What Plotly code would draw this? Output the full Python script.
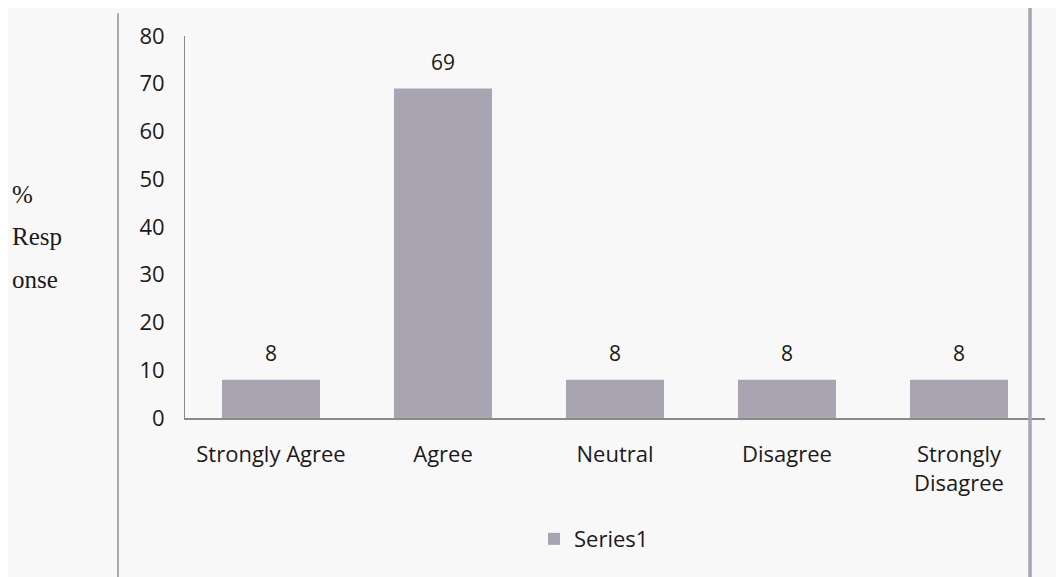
import plotly.graph_objects as go

categories = ["Strongly Agree", "Agree", "Neutral", "Disagree", "Strongly<br>Disagree"]
values = [8, 69, 8, 8, 8]
series_name = "Series1"
y_ticks = [0, 10, 20, 30, 40, 50, 60, 70, 80]
y_title_lines = ["%", "Resp", "onse"]

W, H = 1064, 577
OFF = 8  # page body margin offset
# target pixel positions in the page
PL, PR, PT, PB = 185, 1045, 33, 418
L = PL - OFF
T = PT - OFF
R = W - (PR - OFF)
B = H - (PB - OFF)
pw, ph = (PR - PL), (PB - PT)

def px_x(p):
    return (p - PL) / pw

def px_y(p):
    return (PB - p) / ph

FONT = "Open Sans"
TXT = "#1a1a1a"

fig = go.Figure()
fig.add_trace(go.Bar(
    x=categories, y=values, name=series_name,
    marker=dict(color="#a9a4b2", line=dict(width=0)),
    width=0.57,
))

annotations = []
for c, v in zip(categories, values):
    annotations.append(dict(x=c, y=v, xref="x", yref="y", text=str(v), showarrow=False,
                            yanchor="bottom", yshift=11,
                            font=dict(family=FONT, size=21, color=TXT)))

for line, py, pxl in zip(y_title_lines, [193, 235, 278], [10, 10, 10]):
    annotations.append(dict(text=line, xref="paper", yref="paper", x=px_x(pxl), y=px_y(py),
                            xanchor="left", yanchor="middle", showarrow=False,
                            font=dict(family="Liberation Serif", size=25, color=TXT)))

fig.update_layout(
    width=W, height=H,
    margin=dict(l=L, r=R, t=T, b=B),
    paper_bgcolor="#f9f8f9", plot_bgcolor="rgba(0,0,0,0)",
    showlegend=True,
    legend=dict(orientation="h", x=px_x(594), y=px_y(540), xanchor="center", yanchor="middle",
                font=dict(family=FONT, size=22, color=TXT), bgcolor="rgba(0,0,0,0)"),
    xaxis=dict(showgrid=False, showline=True, linecolor="#8a8a8a", linewidth=1.5,
               tickfont=dict(family=FONT, size=22, color=TXT),
               ticks="", ticklabelstandoff=16),
    yaxis=dict(range=[0, 80], tickvals=y_ticks, showgrid=False, showline=True,
               linecolor="#8a8a8a", linewidth=1, zeroline=False,
               tickfont=dict(family=FONT, size=22, color=TXT),
               ticks="", ticklabelstandoff=15),
    shapes=[
        dict(type="line", xref="paper", yref="paper", x0=px_x(118), x1=px_x(118),
             y0=px_y(10), y1=px_y(590), line=dict(color="#7a7a7a", width=1.2)),
        dict(type="line", xref="paper", yref="paper", x0=px_x(1030), x1=px_x(1030),
             y0=px_y(-5), y1=px_y(590), line=dict(color="#aaa5b2", width=3.5)),
    ],
    annotations=annotations,
)

fig.write_html("out.html")
